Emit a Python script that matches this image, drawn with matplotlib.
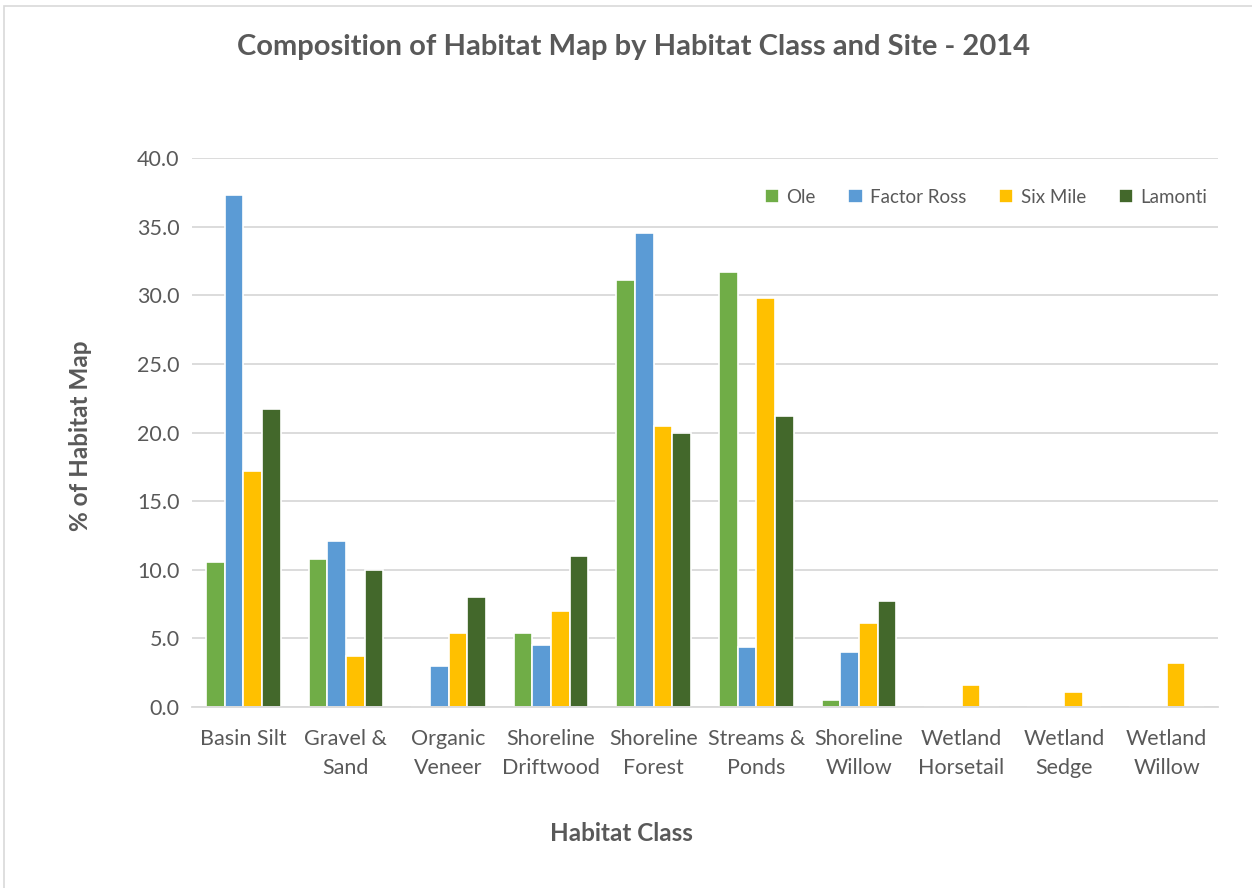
import numpy as np
import matplotlib
matplotlib.use("Agg")
import matplotlib.pyplot as plt
from matplotlib.patches import Rectangle

plt.rcParams["font.family"] = ["Lato", "DejaVu Sans"]

classes = ["Basin Silt", "Gravel &\nSand", "Organic\nVeneer", "Shoreline\nDriftwood",
           "Shoreline\nForest", "Streams &\nPonds", "Shoreline\nWillow",
           "Wetland\nHorsetail", "Wetland\nSedge", "Wetland\nWillow"]
sites = ["Ole", "Factor Ross", "Six Mile", "Lamonti"]

ole         = [10.6, 10.8, 0.0, 5.4, 31.1, 31.7, 0.5, 0.0, 0.0, 0.0]
factor_ross = [37.3, 12.1, 3.0, 4.5, 34.5, 4.4, 4.0, 0.0, 0.0, 0.0]
six_mile    = [17.2, 3.7, 5.4, 7.0, 20.5, 29.8, 6.1, 1.6, 1.1, 3.2]
lamonti     = [21.7, 10.0, 8.0, 11.0, 20.0, 21.2, 7.7, 0.0, 0.0, 0.0]

colors = ["#70AD47", "#5B9BD5", "#FFC000", "#43682B"]
text_c = "#595959"

fig = plt.figure(figsize=(12.52, 8.88), dpi=100)
ax = fig.add_axes([192 / 1252, 1 - 707 / 888, (1218 - 192) / 1252, (707 - 158) / 888])

x = np.arange(len(classes))
step = 0.182
for i, (name, vals, c) in enumerate(zip(sites, [ole, factor_ross, six_mile, lamonti], colors)):
    ax.bar(x + (i - 1.5) * step, vals, width=step, color=c, edgecolor="white",
           linewidth=1.2, label=name, zorder=3)

ax.set_xlim(-0.5, len(classes) - 0.5)
ax.set_ylim(0, 40)
ax.set_yticks(np.arange(0, 40.1, 5))
ax.set_yticklabels([f"{v:.1f}" for v in np.arange(0, 40.1, 5)])
ax.set_xticks(x)
ax.set_xticklabels(classes, linespacing=1.55)
ax.tick_params(axis="both", length=0, labelsize=15.5, labelcolor=text_c)
ax.tick_params(axis="y", pad=9)
ax.tick_params(axis="x", pad=16)
ax.yaxis.grid(True, color="#D9D9D9", linewidth=1.3, zorder=0)
for s in ["top", "right", "left"]:
    ax.spines[s].set_visible(False)
ax.spines["bottom"].set_color("#D9D9D9")
ax.spines["bottom"].set_linewidth(1.3)
ax.spines["bottom"].set_zorder(4)

leg = ax.legend(loc="upper right", bbox_to_anchor=(1.006, 0.975), ncol=4, frameon=False,
                fontsize=13.5, handlelength=0.75, handleheight=0.75, handletextpad=0.4,
                columnspacing=1.75, labelcolor=text_c)

fig.text(0.506, 1 - 47 / 888, "Composition of Habitat Map by Habitat Class and Site - 2014",
         ha="center", va="center", fontsize=21, fontweight="bold", color=text_c)
fig.text(80 / 1252, 1 - 436 / 888, "% of Habitat Map", rotation=90, ha="center",
         va="center", fontsize=17.5, fontweight="bold", color=text_c)
fig.text(621 / 1252, 1 - 833 / 888, "Habitat Class", ha="center", va="center",
         fontsize=17.5, fontweight="bold", color=text_c)

# light chart-area border
fig.patches.append(Rectangle((4 / 1252, -0.01), 1.2, 1 - 6 / 888 + 0.01,
                             transform=fig.transFigure, fill=False,
                             edgecolor="#D9D9D9", linewidth=1.2))

fig.savefig("out.png", dpi=100)
